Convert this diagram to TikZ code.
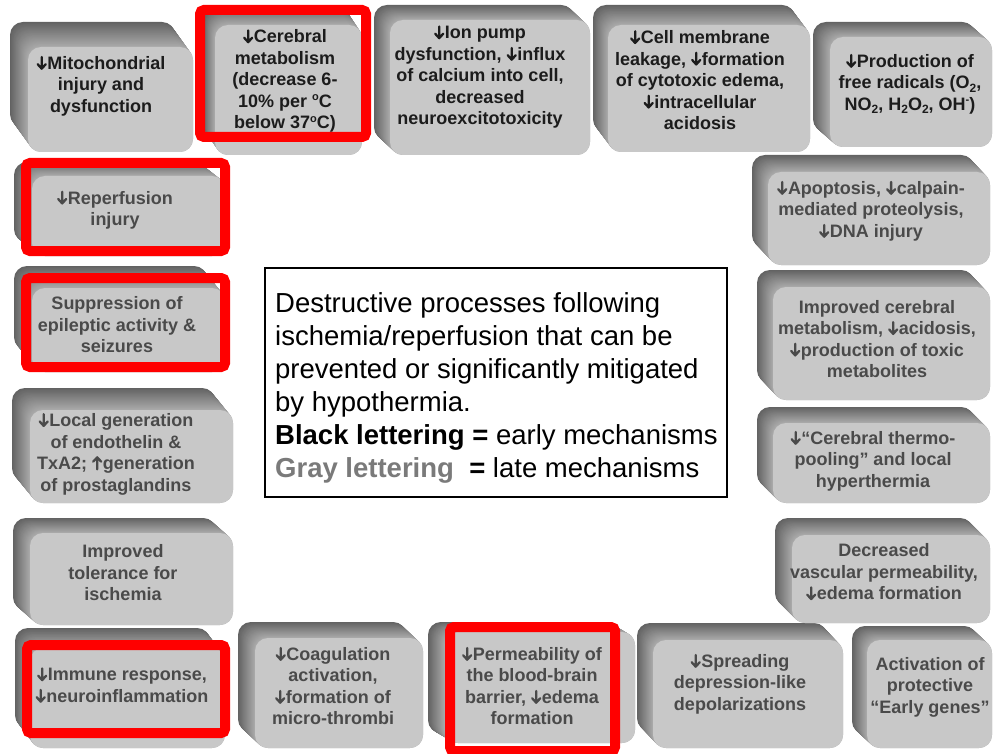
\documentclass[tikz,border=0pt]{standalone}
\usepackage{fontspec}
\setmainfont{Liberation Sans}
\definecolor{bk}{HTML}{626262}
\definecolor{fr}{HTML}{ABABAB}
\definecolor{facec}{HTML}{C8C8C8}
\definecolor{dk}{HTML}{1C1C1C}
\definecolor{gy}{HTML}{4A4A4A}
\definecolor{lgray}{HTML}{7A7A7A}
\definecolor{redf}{HTML}{FF0000}
\newcommand{\dn}{\tikz[baseline=0pt,x=1pt,y=1pt]{\draw[draw=., line width=2.3pt, line cap=round, line join=round] (5,12.5)--(5,1.2) (1,5.2)--(5,0.8)--(9,5.2);}\hspace{0.6pt}}
\newcommand{\upar}{\tikz[baseline=0pt,x=1pt,y=1pt]{\draw[draw=., line width=2.3pt, line cap=round, line join=round] (5,0.3)--(5,11.8) (1,8)--(5,12.3)--(9,8);}\hspace{0.6pt}}
\newcommand{\lsub}[1]{\raisebox{-0.35ex}{\fontsize{12}{12}\selectfont #1}}
\newcommand{\lsup}[1]{\raisebox{0.7ex}{\fontsize{11}{11}\selectfont #1}}
\newcommand{\blk}[6]{%
  \foreach \i in {0,...,36}{%
    \pgfmathsetmacro\s{1-\i/36}%
    \pgfmathtruncatemacro\p{100*\s}%
    \fill[bk!\p!fr, rounded corners=13] ({#1+\s*(#5)},{#2+\s*(#6)}) rectangle ({#3+\s*(#5)},{#4+\s*(#6)});
  }%
  \fill[facec, rounded corners=13] (#1,#2) rectangle (#3,#4);
}
\tikzset{
  btxt/.style={align=center, inner sep=0pt, font=\bfseries\fontsize{18}{21.5}\selectfont},
  early/.style={btxt, text=dk},
  late/.style={btxt, text=gy},
  redframe/.style={draw=redf, line width=10pt, rounded corners=4},
}
\begin{document}
\begin{tikzpicture}[x=1pt,y=-1pt]
\useasboundingbox (0,0) rectangle (993,754);
% blocks: x1 y1 x2 y2 dx dy
\blk{28}{47}{193}{152}{-18}{-25}
\blk{215}{25}{362}{155}{-12}{-18}
\blk{390}{20}{590}{155}{-16}{-15}
\blk{608}{25}{810}{152}{-15}{-20}
\blk{830}{37}{992}{147}{-17}{-15}
\blk{32}{176}{225}{256}{-18}{-14}
\blk{32}{288}{225}{372}{-18}{-22}
\blk{30}{410}{233}{503}{-18}{-22}
\blk{30}{533}{233}{625}{-17}{-15}
\blk{30}{648}{225}{748}{-15}{-20}
\blk{255}{638}{423}{748}{-17}{-16}
\blk{445}{632}{635}{743}{-17}{-10}
\blk{653}{640}{843}{748}{-16}{-17}
\blk{867}{640}{992}{748}{-15}{-14}
\blk{792}{535}{990}{623}{-17}{-17}
\blk{773}{423}{990}{503}{-16}{-16}
\blk{773}{287}{990}{400}{-16}{-17}
\blk{768}{172}{990}{265}{-16}{-17}
% texts
\node[early] (mito) at (101,86) {\dn Mitochondrial\\injury and\\dysfunction};
\node[early] (cereb) at (285,81) {\dn Cerebral\\metabolism\\(decrease 6-\\10\% per \lsup{o}C\\below 37\lsup{o}C)};
\node[early] (ion) at (480,77) {\dn Ion pump\\dysfunction, \dn influx\\of calcium into cell,\\decreased\\neuroexcitotoxicity};
\node[early] (cell) at (700,80) {\dn Cell membrane\\leakage, \dn formation\\of cytotoxic edema,\\\dn intracellular\\acidosis};
\node[early] (prod) at (910,84) {\dn Production of\\free radicals (O\lsub{2},\\NO\lsub{2}, H\lsub{2}O\lsub{2}, OH\lsup{-})};
\node[late] (reperf) at (115,210) {\dn Reperfusion\\injury};
\node[late] (suppr) at (117,325) {Suppression of\\epileptic activity \&\\seizures};
\node[late] (local) at (116,454) {\dn Local generation\\of endothelin \&\\TxA2; \upar generation\\of prostaglandins};
\node[late] (toler) at (123,573) {Improved\\tolerance for\\ischemia};
\node[late] (immune) at (122,685) {\dn Immune response,\\\dn neuroinflammation};
\node[late] (coag) at (333,686) {\dn Coagulation\\activation,\\\dn formation of\\micro-thrombi};
\node[late] (perm) at (532,686) {\dn Permeability of\\the blood-brain\\barrier, \dn edema\\formation};
\node[late] (spread) at (740,684) {\dn Spreading\\depression-like\\depolarizations};
\node[late] (activ) at (930,687) {Activation of\\protective\\“Early genes”};
\node[late] (decr) at (884,572) {Decreased\\vascular permeability,\\\dn edema formation};
\node[late] (thermo) at (873,461) {\dn “Cerebral thermo-\\pooling” and local\\hyperthermia};
\node[late] (impcer) at (877,339) {Improved cerebral\\metabolism, \dn acidosis,\\\dn production of toxic\\metabolites};
\node[late] (apopt) at (871,211) {\dn Apoptosis, \dn calpain-\\mediated proteolysis,\\\dn DNA injury};
% red frames
\draw[redframe] (200,10) rectangle (366,137);
\draw[redframe] (26,163) rectangle (225,251);
\draw[redframe] (26,278) rectangle (225,367);
\draw[redframe] (27,645) rectangle (225,733);
\draw[redframe] (450,627) rectangle (615,751);
% legend box
\draw[line width=1.5pt, fill=white] (265,268) rectangle (727,497);
\node[anchor=north west, align=left, inner sep=0pt, font=\fontsize{27.5}{33}\selectfont] (legend) at (275,292)
{Destructive processes following\\
ischemia/reperfusion that can be\\
prevented or significantly mitigated\\
by hypothermia.\\
\textbf{Black lettering =} early mechanisms\\
\textbf{\textcolor{lgray}{Gray lettering}\ \ =} late mechanisms};
\end{tikzpicture}
\end{document}
